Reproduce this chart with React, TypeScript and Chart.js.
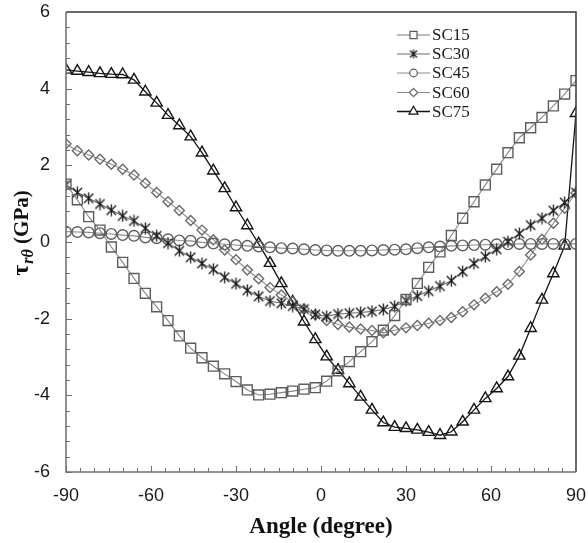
import { useEffect, useRef } from "react";
import { Chart, registerables } from "chart.js";
import { drawPoint } from "chart.js/helpers";

Chart.register(...registerables);

const angles = [-90, -86, -82, -78, -74, -70, -66, -62, -58, -54, -50, -46, -42, -38, -34, -30, -26, -22, -18, -14, -10, -6, -2,
  2, 6, 10, 14, 18, 22, 26, 30, 34, 38, 42, 46, 50, 54, 58, 62, 66, 70, 74, 78, 82, 86, 90];

const sc15 = [1.51, 1.10, 0.66, 0.31, -0.13, -0.53, -0.95, -1.34, -1.69, -2.05, -2.45, -2.77, -3.02, -3.24, -3.44, -3.64, -3.86, -3.99, -3.97, -3.93, -3.89, -3.84, -3.80,
  -3.63, -3.36, -3.12, -2.86, -2.60, -2.30, -1.92, -1.50, -1.08, -0.66, -0.26, 0.17, 0.62, 1.05, 1.49, 1.90, 2.33, 2.72, 2.98, 3.25, 3.55, 3.86, 4.21];

const sc30 = [1.49, 1.29, 1.14, 0.99, 0.83, 0.68, 0.55, 0.36, 0.16, -0.03, -0.23, -0.40, -0.56, -0.71, -0.92, -1.09, -1.26, -1.42, -1.54, -1.60, -1.67, -1.75, -1.89,
  -1.94, -1.88, -1.86, -1.84, -1.81, -1.76, -1.68, -1.53, -1.41, -1.28, -1.15, -1.01, -0.77, -0.56, -0.38, -0.19, 0.01, 0.22, 0.44, 0.62, 0.82, 1.03, 1.29];

const sc45 = [0.27, 0.26, 0.25, 0.23, 0.21, 0.18, 0.16, 0.12, 0.10, 0.07, 0.04, 0.03, -0.01, -0.04, -0.06, -0.08, -0.10, -0.12, -0.14, -0.16, -0.17, -0.19, -0.21,
  -0.22, -0.23, -0.23, -0.23, -0.22, -0.21, -0.20, -0.19, -0.16, -0.14, -0.12, -0.10, -0.09, -0.08, -0.07, -0.06, -0.06, -0.05, -0.05, -0.05, -0.05, -0.05, -0.05];

const sc60 = [2.56, 2.38, 2.27, 2.16, 2.03, 1.90, 1.75, 1.53, 1.29, 1.05, 0.82, 0.56, 0.31, 0.06, -0.21, -0.46, -0.73, -0.96, -1.19, -1.38, -1.56, -1.75, -1.90,
  -2.05, -2.15, -2.22, -2.27, -2.31, -2.37, -2.30, -2.24, -2.18, -2.12, -2.05, -1.97, -1.82, -1.64, -1.47, -1.30, -1.10, -0.77, -0.34, 0.07, 0.49, 0.88, 1.28];

const sc75 = [4.49, 4.46, 4.43, 4.40, 4.38, 4.37, 4.23, 3.92, 3.63, 3.31, 3.04, 2.75, 2.33, 1.86, 1.40, 0.90, 0.43, -0.05, -0.55, -1.08, -1.56, -2.08, -2.54,
  -2.99, -3.34, -3.69, -4.04, -4.38, -4.71, -4.83, -4.86, -4.90, -4.96, -5.04, -4.95, -4.69, -4.38, -4.08, -3.82, -3.51, -2.97, -2.25, -1.51, -0.82, -0.10, 3.36];

const seriesNames = ["SC15", "SC30", "SC45", "SC60", "SC75"];
const xTickStep = 30;
const yTickStep = 2;

function makeAsterisk(size: number, color: string, lw: number) {
  const c = document.createElement("canvas");
  c.width = size;
  c.height = size;
  const ctx = c.getContext("2d")!;
  ctx.strokeStyle = color;
  ctx.lineWidth = lw;
  const m = size / 2;
  const r = size / 2 - 0.5;
  const d = r * 0.78;
  ctx.beginPath();
  ctx.moveTo(m, m - r);
  ctx.lineTo(m, m + r);
  ctx.moveTo(m - d, m - d);
  ctx.lineTo(m + d, m + d);
  ctx.moveTo(m + d, m - d);
  ctx.lineTo(m - d, m + d);
  ctx.stroke();
  return c;
}

export default function App() {
  const ref = useRef<HTMLCanvasElement | null>(null);

  useEffect(() => {
    if (!ref.current) return;
    const star = makeAsterisk(13, "#1a1a1a", 1.3);
    const starSmall = makeAsterisk(10, "#1a1a1a", 1.2);
    const toXY = (vals: number[]) => angles.map((a, i) => ({ x: a, y: vals[i] }));
    const transparent = "rgba(0,0,0,0)";

    const legendStyles = [
      { line: "#7a7a7a", lw: 1.2, style: "rect", radius: 5, border: "#5a5a5a" },
      { line: "#6a6a6a", lw: 1.2, style: starSmall, radius: 5, border: "#1a1a1a" },
      { line: "#8a8a8a", lw: 1.2, style: "circle", radius: 3.8, border: "#5a5a5a" },
      { line: "#8a8a8a", lw: 1.2, style: "rectRot", radius: 4.2, border: "#6a6a6a" },
      { line: "#111111", lw: 1.5, style: "triangle", radius: 5.2, border: "#111111" },
    ];

    const decor = {
      id: "decor",
      afterDraw(chart: any) {
        const ctx = chart.ctx as CanvasRenderingContext2D;
        const { left, right, top, bottom } = chart.chartArea;
        const xs = chart.scales.x;
        const ys = chart.scales.y;
        ctx.save();
        // frame
        ctx.lineWidth = 1.5;
        ctx.strokeStyle = "#3a3a3a";
        ctx.beginPath();
        ctx.moveTo(left, top);
        ctx.lineTo(right, top);
        ctx.lineTo(right, bottom);
        ctx.stroke();
        ctx.strokeStyle = "#6e6e6e";
        ctx.beginPath();
        ctx.moveTo(left, top);
        ctx.lineTo(left, bottom);
        ctx.lineTo(right, bottom);
        ctx.stroke();
        // inward ticks
        ctx.lineWidth = 1;
        ctx.strokeStyle = "#6e6e6e";
        ctx.beginPath();
        for (let v = -90; v <= 90; v += 5) {
          const px = Math.round(xs.getPixelForValue(v)) + 0.5;
          const len = v % 30 === 0 ? 6 : 4;
          ctx.moveTo(px, bottom);
          ctx.lineTo(px, bottom - len);
        }
        for (let i = 0; i <= 30; i++) {
          const v = -6 + i * 0.4;
          const py = Math.round(ys.getPixelForValue(v)) + 0.5;
          const len = i % 5 === 0 ? 6 : 4;
          ctx.moveTo(left, py);
          ctx.lineTo(left + len, py);
        }
        ctx.stroke();

        // x title
        ctx.fillStyle = "#111";
        ctx.font = "bold 23px 'Liberation Serif'";
        ctx.textAlign = "center";
        ctx.textBaseline = "middle";
        ctx.fillText("Angle (degree)", (left + right) / 2, 527);

        // y title
        ctx.save();
        ctx.translate(21, 233);
        ctx.rotate(-Math.PI / 2);
        ctx.textAlign = "left";
        ctx.textBaseline = "alphabetic";
        const f1 = "bold 24px 'Liberation Serif'";
        const f2 = "bold italic 16px 'Liberation Serif'";
        const f3 = "bold 21px 'Liberation Serif'";
        ctx.font = f1;
        const w1 = ctx.measureText("τ").width;
        ctx.font = f2;
        const w2 = ctx.measureText("rθ").width;
        ctx.font = f3;
        const w3 = ctx.measureText(" (GPa)").width;
        let x0 = -(w1 + w2 + w3 + 1) / 2;
        const base = 7;
        ctx.font = f1;
        ctx.fillText("τ", x0, base);
        x0 += w1 + 1;
        ctx.font = f2;
        ctx.fillText("rθ", x0, base + 5);
        x0 += w2;
        ctx.font = f3;
        ctx.fillText(" (GPa)", x0, base);
        ctx.restore();

        // legend
        const rowY = [35, 54, 73, 92.5, 111.5];
        seriesNames.forEach((name, i) => {
          const s = legendStyles[i];
          const y = rowY[i];
          ctx.strokeStyle = s.line;
          ctx.lineWidth = s.lw;
          ctx.beginPath();
          ctx.moveTo(397, y);
          ctx.lineTo(430, y);
          ctx.stroke();
          ctx.fillStyle = "#ffffff";
          ctx.strokeStyle = s.border;
          ctx.lineWidth = 1.2;
          drawPoint(ctx, { pointStyle: s.style as any, radius: s.radius, rotation: 0, borderWidth: 1.2 } as any, 413.5, y);
          ctx.fillStyle = "#1a1a1a";
          ctx.font = "17px 'Liberation Serif'";
          ctx.textAlign = "left";
          ctx.textBaseline = "middle";
          ctx.fillText(name, 432, y + 1);
        });
        ctx.restore();
      },
    };

    const chart = new Chart(ref.current, {
      type: "line",
      data: {
        datasets: [
          {
            label: seriesNames[0],
            data: toXY(sc15),
            borderColor: "#858585",
            borderWidth: 1.1,
            pointStyle: "rect",
            pointRadius: 7,
            pointBorderColor: "#5c5c5c",
            pointBorderWidth: 1.4,
            pointBackgroundColor: transparent,
            tension: 0,
          },
          {
            label: seriesNames[1],
            data: toXY(sc30),
            borderColor: "#6e6e6e",
            borderWidth: 1.1,
            pointStyle: star as any,
            pointRadius: 6,
            pointBackgroundColor: transparent,
            tension: 0,
          },
          {
            label: seriesNames[2],
            data: toXY(sc45),
            borderColor: "#8a8a8a",
            borderWidth: 1.1,
            pointStyle: "circle",
            pointRadius: 5.3,
            pointBorderColor: "#5c5c5c",
            pointBorderWidth: 1.4,
            pointBackgroundColor: transparent,
            tension: 0,
          },
          {
            label: seriesNames[3],
            data: toXY(sc60),
            borderColor: "#8a8a8a",
            borderWidth: 1.1,
            pointStyle: "rectRot",
            pointRadius: 5,
            pointBorderColor: "#6a6a6a",
            pointBorderWidth: 1.4,
            pointBackgroundColor: transparent,
            tension: 0,
          },
          {
            label: seriesNames[4],
            data: toXY(sc75),
            borderColor: "#151515",
            borderWidth: 1.3,
            pointStyle: "triangle",
            pointRadius: 6.5,
            pointBorderColor: "#151515",
            pointBorderWidth: 1.4,
            pointBackgroundColor: transparent,
            tension: 0,
          },
        ],
      },
      options: {
        animation: false,
        responsive: false,
        maintainAspectRatio: false,
        layout: { padding: { top: 12, right: 12, left: 0, bottom: 0 } },
        plugins: { legend: { display: false }, tooltip: { enabled: false }, title: { display: false } },
        scales: {
          x: {
            type: "linear",
            min: -90,
            max: 90,
            afterFit: (s: any) => {
              s.height = 71;
              s.paddingLeft = 0;
              s.paddingRight = 0;
            },
            ticks: {
              stepSize: xTickStep,
              color: "#1a1a1a",
              font: { family: "'Liberation Sans'", size: 18 },
              padding: 13,
              maxRotation: 0,
            },
            grid: { display: false, drawTicks: false },
            border: { display: false },
          },
          y: {
            type: "linear",
            min: -6,
            max: 6,
            afterFit: (s: any) => {
              s.width = 66;
              s.paddingTop = 0;
              s.paddingBottom = 0;
            },
            ticks: {
              stepSize: yTickStep,
              color: "#1a1a1a",
              font: { family: "'Liberation Sans'", size: 18 },
              padding: 16,
            },
            grid: { display: false, drawTicks: false },
            border: { display: false },
          },
        },
      },
      plugins: [decor],
    });
    return () => chart.destroy();
  }, []);

  return (
    <div style={{ position: "fixed", left: 0, top: 0, width: 588, height: 543, background: "#fff" }}>
      <canvas ref={ref} width={588} height={543} style={{ width: 588, height: 543 }} />
    </div>
  );
}
